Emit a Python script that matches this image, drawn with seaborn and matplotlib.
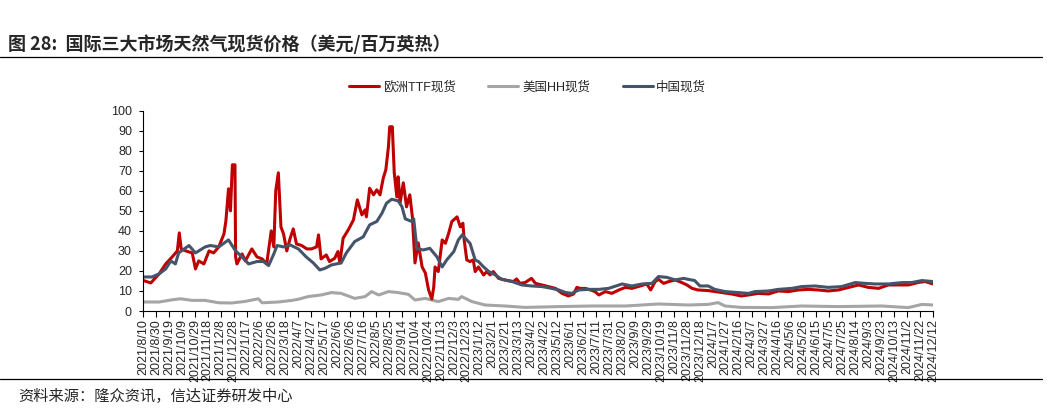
import matplotlib
matplotlib.use('Agg')
import matplotlib.pyplot as plt
from matplotlib.lines import Line2D
import seaborn as sns
import pandas as pd

sns.set_style('ticks')
plt.rcParams['font.family'] = ['Liberation Sans', 'Noto Sans CJK SC', 'DejaVu Sans']
plt.rcParams['axes.unicode_minus'] = False

COLOR_TTF = '#C00000'
COLOR_HH = '#A5A5A5'
COLOR_CN = '#44546A'

# 欧洲TTF现货
ttf_dates = [
    '2021-08-10', '2021-08-22', '2021-09-04', '2021-09-14', '2021-09-24', '2021-10-02', '2021-10-05',
    '2021-10-08', '2021-10-15', '2021-10-25', '2021-10-30', '2021-11-04', '2021-11-12', '2021-11-20',
    '2021-11-27', '2021-12-05', '2021-12-13', '2021-12-16', '2021-12-20', '2021-12-23', '2021-12-26',
    '2021-12-30', '2021-12-31', '2022-01-02', '2022-01-10', '2022-01-15', '2022-01-25', '2022-02-02',
    '2022-02-10', '2022-02-17', '2022-02-24', '2022-02-28', '2022-03-03', '2022-03-07', '2022-03-11',
    '2022-03-15', '2022-03-20', '2022-03-25', '2022-03-30', '2022-04-04', '2022-04-12', '2022-04-20',
    '2022-04-27', '2022-05-05', '2022-05-08', '2022-05-12', '2022-05-20', '2022-05-25', '2022-06-02',
    '2022-06-07', '2022-06-10', '2022-06-15', '2022-06-23', '2022-07-01', '2022-07-07', '2022-07-14',
    '2022-07-19', '2022-07-21', '2022-07-26', '2022-08-01', '2022-08-06', '2022-08-11', '2022-08-16',
    '2022-08-20', '2022-08-24', '2022-08-26', '2022-08-30', '2022-09-02', '2022-09-06', '2022-09-08',
    '2022-09-11', '2022-09-16', '2022-09-21', '2022-09-26', '2022-09-30', '2022-10-04', '2022-10-09',
    '2022-10-15', '2022-10-20', '2022-10-25', '2022-10-30', '2022-11-02', '2022-11-04', '2022-11-09',
    '2022-11-15', '2022-11-20', '2022-11-25', '2022-11-30', '2022-12-08', '2022-12-13', '2022-12-17',
    '2022-12-19', '2022-12-23', '2022-12-28', '2023-01-02', '2023-01-05', '2023-01-10', '2023-01-18',
    '2023-01-23', '2023-01-28', '2023-02-02', '2023-02-10', '2023-02-20', '2023-03-05', '2023-03-10',
    '2023-03-15', '2023-03-23', '2023-04-02', '2023-04-08', '2023-04-18', '2023-04-28', '2023-05-09',
    '2023-05-19', '2023-05-29', '2023-06-06', '2023-06-11', '2023-06-16', '2023-06-24', '2023-07-02',
    '2023-07-09', '2023-07-15', '2023-07-25', '2023-08-04', '2023-08-15', '2023-08-25', '2023-09-04',
    '2023-09-17', '2023-09-27', '2023-10-03', '2023-10-10', '2023-10-15', '2023-10-23', '2023-10-31',
    '2023-11-10', '2023-11-20', '2023-11-28', '2023-12-06', '2023-12-15', '2023-12-31', '2024-01-10',
    '2024-01-21', '2024-02-05', '2024-02-20', '2024-03-02', '2024-03-17', '2024-04-02', '2024-04-17',
    '2024-05-03', '2024-05-18', '2024-06-03', '2024-06-18', '2024-07-03', '2024-07-19', '2024-08-03',
    '2024-08-19', '2024-09-03', '2024-09-19', '2024-10-04', '2024-10-20', '2024-11-04', '2024-11-20',
    '2024-11-30', '2024-12-12',
]
ttf_values = [
    15.3, 14.0, 18.6, 23.5, 27.0, 30.0, 39.0,
    31.0, 30.0, 29.0, 21.0, 25.0, 23.5, 30.0,
    29.0, 32.0, 38.5, 45.0, 61.0, 50.0, 73.0,
    73.0, 27.0, 23.5, 28.5, 25.0, 31.0, 27.0,
    26.0, 23.5, 40.0, 32.0, 60.0, 69.0, 42.0,
    38.5, 30.0, 36.0, 41.0, 33.5, 32.7, 31.0,
    31.0, 32.0, 38.0, 26.0, 28.0, 24.7, 26.3,
    29.7, 24.0, 36.3, 40.5, 45.5, 55.5, 48.0,
    50.5, 47.0, 61.3, 58.0, 60.5, 58.0, 66.3,
    70.5, 82.0, 92.0, 92.0, 69.0, 57.0, 67.0,
    54.0, 64.0, 52.0, 58.0, 47.0, 24.0, 34.0,
    22.0, 19.0, 10.5, 6.0, 12.0, 22.0, 19.7,
    35.5, 33.8, 38.8, 44.7, 47.0, 42.0, 43.8,
    35.5, 25.5, 24.7, 25.5, 19.7, 22.0, 18.0,
    19.7, 18.0, 19.7, 16.3, 15.5, 14.7, 16.0,
    13.8, 14.2, 16.3, 13.8, 13.0, 12.2, 11.3,
    8.8, 7.5, 8.5, 11.8, 11.3, 11.3, 10.5,
    9.7, 8.0, 9.7, 8.8, 10.5, 11.8, 11.3,
    12.5, 13.5, 10.5, 14.7, 15.8, 13.8, 14.7,
    15.5, 14.2, 13.0, 11.3, 10.5, 10.2, 9.7,
    9.2, 8.5, 7.5, 8.0, 8.8, 8.5, 10.0,
    9.7, 10.5, 10.8, 10.5, 10.0, 10.5, 11.7,
    13.0, 11.8, 11.3, 13.0, 13.0, 13.0, 14.3,
    14.7, 13.5,
]

# 美国HH现货
hh_dates = [
    '2021-08-10', '2021-09-04', '2021-09-24', '2021-10-07', '2021-10-25', '2021-11-14', '2021-12-05',
    '2021-12-25', '2022-01-15', '2022-02-04', '2022-02-10', '2022-03-07', '2022-03-28', '2022-04-06',
    '2022-04-22', '2022-05-12', '2022-05-28', '2022-06-12', '2022-07-03', '2022-07-19', '2022-07-29',
    '2022-08-09', '2022-08-24', '2022-09-08', '2022-09-24', '2022-10-04', '2022-10-20', '2022-11-09',
    '2022-11-25', '2022-12-10', '2022-12-15', '2022-12-31', '2023-01-20', '2023-02-20', '2023-03-23',
    '2023-05-14', '2023-07-04', '2023-08-25', '2023-10-15', '2023-11-30', '2023-12-31', '2024-01-15',
    '2024-01-26', '2024-02-20', '2024-04-07', '2024-05-23', '2024-07-19', '2024-09-24', '2024-11-04',
    '2024-11-25', '2024-12-12',
]
hh_values = [
    4.5, 4.5, 5.6, 6.1, 5.3, 5.3, 4.1,
    4.0, 4.8, 6.1, 4.1, 4.5, 5.3, 5.8,
    7.2, 8.0, 9.2, 8.8, 6.3, 7.2, 9.7,
    8.0, 9.7, 9.2, 8.3, 5.5, 6.3, 4.7,
    6.3, 5.8, 7.2, 4.7, 3.0, 2.5, 1.8,
    2.2, 2.5, 2.5, 3.5, 3.0, 3.3, 4.2,
    2.5, 1.8, 1.7, 2.5, 2.2, 2.5, 1.7,
    3.3, 3.0,
]

# 中国现货
cn_dates = [
    '2021-08-10', '2021-08-24', '2021-09-04', '2021-09-14', '2021-09-22', '2021-09-29', '2021-10-04',
    '2021-10-20', '2021-10-30', '2021-11-14', '2021-11-22', '2021-12-05', '2021-12-20', '2021-12-31',
    '2022-01-10', '2022-01-20', '2022-02-02', '2022-02-12', '2022-02-20', '2022-02-28', '2022-03-05',
    '2022-03-15', '2022-03-25', '2022-04-07', '2022-04-19', '2022-04-30', '2022-05-10', '2022-05-18',
    '2022-05-28', '2022-06-12', '2022-06-20', '2022-07-03', '2022-07-16', '2022-07-26', '2022-08-06',
    '2022-08-14', '2022-08-21', '2022-08-29', '2022-09-08', '2022-09-14', '2022-09-19', '2022-09-29',
    '2022-10-02', '2022-10-07', '2022-10-17', '2022-10-27', '2022-11-07', '2022-11-15', '2022-11-22',
    '2022-12-03', '2022-12-10', '2022-12-16', '2022-12-28', '2023-01-05', '2023-01-10', '2023-01-18',
    '2023-01-26', '2023-02-05', '2023-02-15', '2023-03-03', '2023-03-18', '2023-04-02', '2023-04-18',
    '2023-05-03', '2023-05-14', '2023-05-24', '2023-06-03', '2023-06-14', '2023-06-29', '2023-07-15',
    '2023-07-30', '2023-08-20', '2023-09-04', '2023-09-20', '2023-10-05', '2023-10-15', '2023-10-28',
    '2023-11-10', '2023-11-23', '2023-11-30', '2023-12-10', '2023-12-18', '2023-12-31', '2024-01-10',
    '2024-01-26', '2024-02-15', '2024-03-02', '2024-03-12', '2024-04-02', '2024-04-17', '2024-05-08',
    '2024-05-23', '2024-06-13', '2024-07-03', '2024-07-24', '2024-08-14', '2024-08-29', '2024-09-14',
    '2024-10-04', '2024-10-25', '2024-11-09', '2024-11-25', '2024-12-12',
]
cn_values = [
    17.0, 17.0, 18.6, 21.0, 25.0, 23.5, 29.0,
    32.7, 29.0, 32.0, 32.7, 32.0, 35.5, 30.0,
    27.0, 23.5, 24.7, 24.7, 22.7, 28.5, 32.7,
    32.0, 33.0, 31.0, 27.0, 24.0, 20.5, 21.3,
    23.0, 24.0, 29.0, 34.7, 37.0, 43.0, 44.7,
    48.8, 53.8, 55.8, 55.0, 52.0, 46.0, 44.7,
    46.0, 31.0, 30.5, 31.3, 27.0, 22.0, 25.5,
    29.7, 35.5, 38.0, 33.8, 25.5, 24.7, 22.0,
    19.7, 18.0, 15.8, 14.7, 13.0, 12.5, 12.2,
    11.3, 10.5, 9.3, 8.8, 10.5, 10.8, 10.8,
    11.3, 13.5, 12.5, 13.5, 13.8, 17.2, 16.8,
    15.5, 16.3, 15.8, 15.2, 12.5, 12.5, 10.8,
    9.7, 9.2, 8.8, 9.7, 10.0, 10.8, 11.3,
    12.2, 12.5, 11.8, 12.2, 14.2, 13.8, 13.5,
    13.5, 14.2, 14.2, 15.2, 14.7,
]

series_names = ['欧洲TTF现货', '美国HH现货', '中国现货']

df_ttf = pd.DataFrame({'date': pd.to_datetime(ttf_dates), 'price': ttf_values})
df_hh = pd.DataFrame({'date': pd.to_datetime(hh_dates), 'price': hh_values})
df_cn = pd.DataFrame({'date': pd.to_datetime(cn_dates), 'price': cn_values})

fig = plt.figure(figsize=(10.47, 4.09), dpi=100)
ax = fig.add_axes([0.1366, 0.2396, 0.7545, 0.4897])

sns.lineplot(data=df_hh, x='date', y='price', color=COLOR_HH, linewidth=2.2, ax=ax)
sns.lineplot(data=df_ttf, x='date', y='price', color=COLOR_TTF, linewidth=2.2, ax=ax)
sns.lineplot(data=df_cn, x='date', y='price', color=COLOR_CN, linewidth=2.2, ax=ax)

start, end = pd.Timestamp('2021-08-10'), pd.Timestamp('2024-12-12')
ax.set_xlim(start, end)
ax.set_ylim(0, 100)
ax.set_yticks(range(0, 101, 10))
ticks = pd.date_range(start, end, freq='20D')
ax.set_xticks(ticks)
ax.set_xticklabels([f'{d.year}/{d.month}/{d.day}' for d in ticks], rotation=90, fontsize=9)
ax.tick_params(axis='y', labelsize=9, length=3, width=0.8, pad=5, color='black')
ax.tick_params(axis='x', length=4, width=0.8, pad=2, color='black')
ax.set_xlabel('')
ax.set_ylabel('')
for s in ['top', 'right']:
    ax.spines[s].set_visible(False)
for s in ['left', 'bottom']:
    ax.spines[s].set_color('black')
    ax.spines[s].set_linewidth(0.8)

handles = [Line2D([], [], color=c, lw=2.2) for c in [COLOR_TTF, COLOR_HH, COLOR_CN]]
fig.legend(handles, series_names, loc='center', bbox_to_anchor=(0.504, 0.787), ncol=3,
           frameon=False, fontsize=9, handlelength=2.4, columnspacing=2.6, handletextpad=0.3)

fig.text(0.008, 1 - 44 / 409, '图 28:  国际三大市场天然气现货价格（美元/百万英热）',
         fontsize=13, fontweight='bold', va='center', ha='left',
         family=['Noto Sans CJK SC', 'DejaVu Sans'])
fig.add_artist(Line2D([0, 0.995], [1 - 57 / 409] * 2, transform=fig.transFigure, color='black', lw=0.9))
fig.add_artist(Line2D([0, 0.995], [1 - 379 / 409] * 2, transform=fig.transFigure, color='black', lw=0.9))
fig.text(0.017, 1 - 396 / 409, '资料来源：隆众资讯，信达证券研发中心', fontsize=11, style='italic',
         va='center', ha='left', family=['Noto Sans CJK SC', 'DejaVu Sans'])

fig.savefig('out.png', dpi=100)
